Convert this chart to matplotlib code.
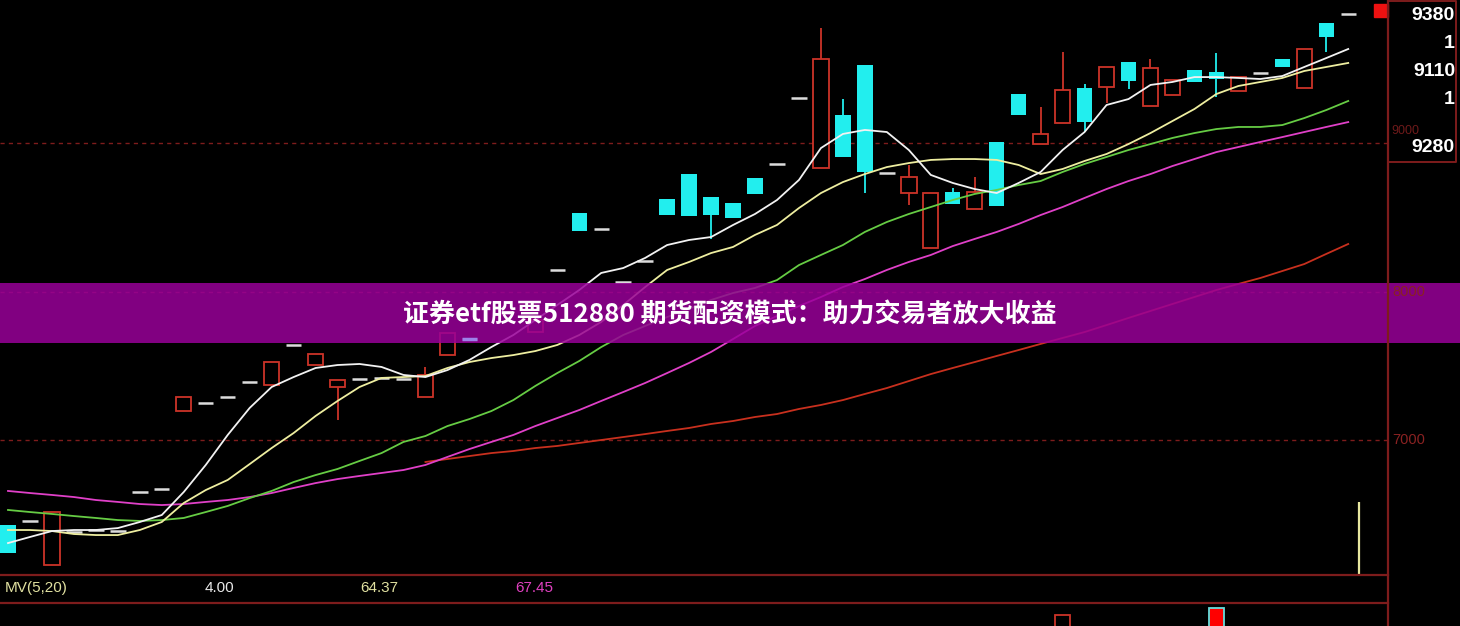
import numpy as np
import matplotlib
matplotlib.use("Agg")
import matplotlib.pyplot as plt
from matplotlib.patches import Rectangle

# ---------------- data ----------------
opens = [6428, 6455, 6158, 6380, 6394, 6387, 6650, 6670, 7195, 7249,
         7290, 7391, 7370, 7640, 7505, 7357, 7411, 7418, 7411, 7290,
         7572, 7680, np.nan, np.nan, 7727, 8145, 8529, 8421, 8064, 8205,
         8623, 8791, 8636, 8596, 8764, 8859, 9303, 8832, 9189, 9525,
         8798, 8663, 8293, 8670, 8556, 9007, 9330, 8993, 9135, 9370,
         9377, 9545, 9249, 9323, 9492, 9478, 9350, 9471, 9566, 9370,
         9808, 9869]
highs = [6428, 6455, 6515, 6380, 6394, 6387, 6650, 6670, 7290, 7249,
         7290, 7391, 7525, 7640, 7579, 7404, 7411, 7418, 7411, 7492,
         7721, 7680, np.nan, np.nan, 7808, 8145, 8529, 8421, 8064, 8205,
         8623, 8791, 8636, 8596, 8764, 8859, 9303, 9774, 9296, 9525,
         8798, 8852, 8663, 8697, 8771, 9007, 9330, 9242, 9613, 9397,
         9512, 9545, 9566, 9424, 9492, 9606, 9444, 9471, 9566, 9633,
         9808, 9869]
lows = [6239, 6455, 6158, 6380, 6394, 6387, 6650, 6670, 7195, 7249,
        7290, 7391, 7370, 7640, 7505, 7135, 7411, 7418, 7411, 7290,
        7572, 7680, np.nan, np.nan, 7727, 8145, 8407, 8421, 8064, 8205,
        8515, 8508, 8354, 8495, 8657, 8859, 9303, 8832, 8906, 8663,
        8798, 8583, 8293, 8589, 8556, 8576, 9189, 8993, 9135, 9074,
        9269, 9364, 9249, 9323, 9411, 9310, 9350, 9471, 9512, 9370,
        9613, 9869]
closes = [6239, 6455, 6515, 6380, 6394, 6387, 6650, 6670, 7290, 7249,
          7290, 7391, 7525, 7640, 7579, 7404, 7411, 7418, 7411, 7438,
          7721, 7680, np.nan, np.nan, 7808, 8145, 8407, 8421, 8064, 8205,
          8515, 8508, 8515, 8495, 8657, 8859, 9303, 9566, 8906, 8805,
          8798, 8771, 8663, 8589, 8670, 8576, 9189, 9061, 9357, 9141,
          9512, 9418, 9505, 9424, 9411, 9431, 9444, 9471, 9512, 9633,
          9714, 9869]

ma5 = [6306, 6347, 6387, 6394, 6394, 6407, 6448, 6495, 6650, 6832,
       7034, 7216, 7357, 7424, 7485, 7505, 7512, 7492, 7438, 7424,
       7471, 7539, 7626, 7707, 7808, 7909, 8010, 8125, 8158, 8226,
       8313, 8347, 8367, 8448, 8522, 8616, 8751, 8966, 9061, 9088,
       9074, 8953, 8785, 8731, 8690, 8663, 8731, 8805, 8953, 9074,
       9256, 9296, 9391, 9411, 9444, 9444, 9438, 9431, 9451, 9512,
       9572, 9633]
ma10 = [6394, 6394, 6387, 6367, 6360, 6360, 6394, 6448, 6576, 6663,
        6731, 6838, 6946, 7047, 7162, 7263, 7357, 7418, 7424, 7431,
        7485, 7525, 7552, 7572, 7599, 7640, 7707, 7795, 7909, 8030,
        8145, 8199, 8259, 8300, 8381, 8448, 8562, 8663, 8737, 8791,
        8838, 8865, 8886, 8892, 8892, 8886, 8852, 8791, 8825, 8879,
        8926, 8993, 9067, 9148, 9229, 9330, 9384, 9411, 9438, 9485,
        9512, 9539]
ma20 = [6529, 6515, 6502, 6488, 6475, 6461, 6455, 6461, 6475, 6515,
        6556, 6609, 6657, 6717, 6764, 6805, 6859, 6912, 6987, 7027,
        7094, 7141, 7195, 7269, 7364, 7451, 7532, 7626, 7707, 7768,
        7828, 7882, 7943, 7990, 8024, 8077, 8178, 8246, 8313, 8401,
        8468, 8522, 8569, 8616, 8657, 8684, 8717, 8744, 8805, 8859,
        8906, 8953, 8993, 9034, 9067, 9094, 9108, 9108, 9121, 9168,
        9222, 9283]
ma60 = [6657, 6643, 6630, 6616, 6596, 6583, 6569, 6562, 6569, 6583,
        6596, 6616, 6643, 6677, 6710, 6737, 6758, 6778, 6798, 6832,
        6886, 6939, 6987, 7034, 7094, 7148, 7202, 7263, 7323, 7384,
        7451, 7519, 7593, 7680, 7768, 7835, 7902, 7963, 8030, 8084,
        8145, 8199, 8246, 8306, 8354, 8401, 8455, 8515, 8569, 8630,
        8690, 8744, 8791, 8845, 8892, 8939, 8973, 9007, 9040, 9074,
        9108, 9141]
ma120 = [np.nan] * 19 + [
    6852, 6872, 6892, 6912, 6926, 6946, 6960, 6980, 7000, 7020,
    7040, 7061, 7081, 7108, 7128, 7155, 7175, 7209, 7236, 7269,
    7310, 7350, 7397, 7444, 7485, 7525, 7566, 7606, 7647, 7687,
    7727, 7774, 7822, 7869, 7916, 7963, 8010, 8051, 8091, 8138,
    8185, 8253, 8320]

grid_levels = [9000, 8000, 7000]
axis_labels = ["9000", "8000", "7000"]
box_labels = ["9380", "1", "9110", "1", "9280"]
mv_label = "MV(5,20)"
mv_values = ["4.00", "64.37", "67.45"]
vol_bar_top = 6583          # thin yellow bar at the right
low_panel_idx = [48, 55]
low_panel_val = [11, 18]
title = "证券etf股票512880 期货配资模式：助力交易者放大收益"

# ---------------- styles ----------------
RED = "#cc3328"
CYAN = "#22eeee"
DIM = "#7e1c1c"
W, H = 1460, 626

fig = plt.figure(figsize=(W / 100, H / 100), dpi=100, facecolor="black")

# main price panel
ax = fig.add_axes([0, 51 / H, 1388 / W, 575 / H])
ax.set_facecolor("black")
for s in ax.spines.values():
    s.set_visible(False)
ax.set_xticks([]); ax.set_yticks([])
ax.set_xlim(-0.364, 62.81)
ax.set_ylim(6091, 9963)

for lv in grid_levels:
    ax.axhline(lv, color=DIM, lw=1.0, ls=(0, (3, 3)), zorder=1)

x = np.arange(len(opens))
o = np.array(opens, float); h = np.array(highs, float)
l = np.array(lows, float); c = np.array(closes, float)
bw = 0.70

for i in x:
    if np.isnan(o[i]):
        continue
    if o[i] == c[i] and h[i] == l[i]:
        ax.hlines(o[i], i - bw / 2, i + bw / 2, color="#dcdcdc", lw=1.8, zorder=4)
    elif c[i] < o[i]:  # falling: filled cyan
        ax.vlines(i, l[i], h[i], color=CYAN, lw=1.3, zorder=3)
        ax.bar(i, o[i] - c[i], bottom=c[i], width=bw, color=CYAN, zorder=4)
    else:  # rising: hollow red
        if h[i] > c[i]:
            ax.vlines(i, c[i], h[i], color=RED, lw=1.3, zorder=3)
        if l[i] < o[i]:
            ax.vlines(i, l[i], o[i], color=RED, lw=1.3, zorder=3)
        ax.bar(i, c[i] - o[i], bottom=o[i], width=bw, facecolor="black",
               edgecolor=RED, lw=1.3, zorder=4)

ax.plot(x, ma120, color="#c8301e", lw=1.3, zorder=5)
ax.plot(x, ma60, color="#e040c8", lw=1.3, zorder=5)
ax.plot(x, ma20, color="#66cc44", lw=1.3, zorder=5)
ax.plot(x, ma10, color="#eeeea0", lw=1.3, zorder=5)
ax.plot(x, ma5, color="#f2f2f2", lw=1.3, zorder=5)

ax.vlines(61.5, 6091, vol_bar_top, color="#e8e8a0", lw=1.6, zorder=5)

# lower indicator panel (partially visible)
axl = fig.add_axes([0, 0, 1388 / W, 23 / H])
axl.set_facecolor("black")
for s in axl.spines.values():
    s.set_visible(False)
axl.set_xticks([]); axl.set_yticks([])
axl.set_xlim(-0.364, 62.81)
axl.set_ylim(0, 23)
axl.bar(low_panel_idx[0], low_panel_val[0] + 5, bottom=-5, width=bw,
        facecolor="black", edgecolor=RED, lw=1.3)
axl.bar(low_panel_idx[1], low_panel_val[1] + 5, bottom=-5, width=bw,
        facecolor="#ff0000", edgecolor="#66dddd", lw=1.3)

# overlay in pixel coordinates for frame, labels and banner
ov = fig.add_axes([0, 0, 1, 1], zorder=10)
ov.set_xlim(0, W); ov.set_ylim(H, 0)
ov.set_facecolor("none")
ov.axis("off")

ov.plot([0, 1388], [575, 575], color=DIM, lw=1.6)
ov.plot([0, 1388], [603, 603], color=DIM, lw=1.6)
ov.plot([1388, 1388], [0, H], color=DIM, lw=1.6)
ov.plot([1388, 1456, 1456, 1388], [0.5, 0.5, 162, 162], color=DIM, lw=1.4)
ov.add_patch(Rectangle((1374, 4), 14, 13, color="#ee1111"))

narrow = ["Liberation Sans Narrow", "Liberation Sans", "DejaVu Sans"]
ov.text(5, 588, mv_label, color="#e0e0a0", fontsize=11, family=narrow, va="center")
for t, xp, col in zip(mv_values, [205, 360, 515], ["#e8e8e8", "#e0e0a0", "#e040c0"]):
    ov.text(xp, 588, t, color=col, fontsize=11, family=narrow, va="center")

# dim axis labels
ov.text(1391, 131, axis_labels[0], color="#6e1a1a", fontsize=9, family=narrow,
        va="center")
for lab, yp in zip(axis_labels[1:], [292, 440]):
    ov.text(1392, yp, lab, color="#8a2222", fontsize=10.5, family=narrow, va="center")

for lab, yp in zip(box_labels, [16, 43, 72, 99, 148]):
    ov.text(1455, yp, lab, color="white", fontsize=14, fontweight="bold",
            family=["Liberation Sans", "DejaVu Sans"], ha="right", va="center",
            zorder=3)

# banner (semi-transparent, lines faintly visible through it)
ov.add_patch(Rectangle((0, 283), W, 60, facecolor="#990099", alpha=0.85, lw=0))
ov.text(730, 314, title, color="white", fontsize=18.7, fontweight="bold",
        family=["Noto Sans CJK SC", "DejaVu Sans"], ha="center", va="center")
# the short dash that shows lavender on the banner edge
ov.hlines(closes[21], 21 - bw / 2, 21 + bw / 2, color="#9c82ea", lw=2.5,
          transform=ax.transData)

fig.savefig("out.png", dpi=100, facecolor="black")
